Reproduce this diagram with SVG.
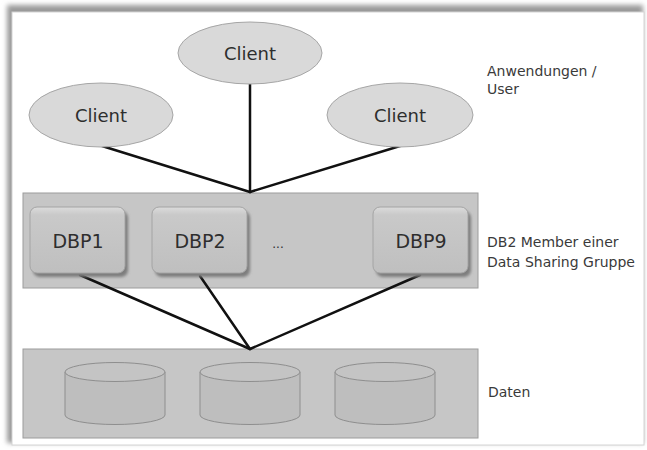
<svg xmlns="http://www.w3.org/2000/svg" width="647" height="450" viewBox="0 0 647 450">
  <style>
    .client { fill: #d9d9d9; stroke: #a6a6a6; stroke-width: 1; }
    .band { fill: #c6c6c6; stroke: #9c9c9c; stroke-width: 1; }
    .box { fill: url(#boxFill); stroke: #a4a4a4; stroke-width: 1; }
    .boxShadow { fill: #7d7d7d; filter: url(#soft); }
    .cyl { fill: #bebebe; stroke: #8e8e8e; stroke-width: 1; }
    .cylTop { fill: #c4c4c4; stroke: #8e8e8e; stroke-width: 1; }
    .conn { stroke: #111; stroke-width: 2.5; fill: none; stroke-linecap: round; }
    .node-text { font-family: "DejaVu Sans", "Liberation Sans", sans-serif; fill: #2e2e2e; text-anchor: middle; }
    .label { font-family: "DejaVu Sans", "Liberation Sans", sans-serif; font-size: 14px; fill: #3a3a3a; }
  </style>
  <defs>
    <linearGradient id="boxFill" x1="0" y1="0" x2="0" y2="1">
      <stop offset="0" stop-color="#dcdcdc"/>
      <stop offset="0.12" stop-color="#c9c9c9"/>
      <stop offset="1" stop-color="#bfbfbf"/>
    </linearGradient>
    <filter id="soft" x="-10%" y="-10%" width="120%" height="130%">
      <feGaussianBlur stdDeviation="1.5"/>
    </filter>
    <filter id="frameShadow" x="-5%" y="-5%" width="110%" height="110%">
      <feGaussianBlur stdDeviation="2.5"/>
    </filter>
  </defs>

  <!-- page background and framed panel, shadow falling up and left -->
  <rect x="0" y="0" width="647" height="450" fill="#ffffff"/>
  <rect x="7" y="5" width="636" height="438" fill="#9a9a9a" filter="url(#frameShadow)"/>
  <rect x="12" y="12" width="632" height="433" fill="#ffffff" stroke="#d4d4d4" stroke-width="1"/>

  <!-- layer bands -->
  <g id="band-members">
    <rect class="band" x="23" y="193" width="455" height="95"/>
  </g>
  <g id="band-data">
    <rect class="band" x="23" y="349" width="455" height="89"/>
  </g>

  <!-- connectors -->
  <g id="connectors">
    <line class="conn" x1="102" y1="146" x2="250" y2="192"/>
    <line class="conn" x1="250" y1="84" x2="250" y2="192"/>
    <line class="conn" x1="400" y1="146" x2="250" y2="192"/>
    <line class="conn" x1="80" y1="275" x2="250" y2="349"/>
    <line class="conn" x1="200" y1="276" x2="250" y2="349"/>
    <line class="conn" x1="420" y1="275" x2="250" y2="349"/>
  </g>

  <!-- clients -->
  <g id="client-top">
    <ellipse class="client" cx="250" cy="53" rx="72" ry="31"/>
    <text class="node-text" x="250" y="59.5" font-size="18">Client</text>
  </g>
  <g id="client-left">
    <ellipse class="client" cx="101" cy="115" rx="72" ry="32"/>
    <text class="node-text" x="101" y="121.5" font-size="18">Client</text>
  </g>
  <g id="client-right">
    <ellipse class="client" cx="400" cy="115" rx="73" ry="32"/>
    <text class="node-text" x="400" y="121.5" font-size="18">Client</text>
  </g>

  <!-- DB2 members -->
  <g id="dbp1">
    <rect class="boxShadow" x="33" y="211" width="95" height="66" rx="7"/>
    <rect class="box" x="30" y="207" width="95" height="66" rx="7"/>
    <text class="node-text" x="78" y="248" font-size="19">DBP1</text>
  </g>
  <g id="dbp2">
    <rect class="boxShadow" x="155" y="211" width="95" height="66" rx="7"/>
    <rect class="box" x="152" y="207" width="95" height="66" rx="7"/>
    <text class="node-text" x="200" y="248" font-size="19">DBP2</text>
  </g>
  <g id="dbp-more">
    <text class="node-text" x="278" y="248" font-size="12" fill="#555">...</text>
  </g>
  <g id="dbp9">
    <rect class="boxShadow" x="376" y="211" width="95" height="66" rx="7"/>
    <rect class="box" x="373" y="207" width="95" height="66" rx="7"/>
    <text class="node-text" x="421" y="248" font-size="19">DBP9</text>
  </g>

  <!-- data volumes -->
  <g id="disk1">
    <path class="cyl" d="M65,372 V415 A50,9.5 0 0 0 165,415 V372 Z"/>
    <ellipse class="cylTop" cx="115" cy="372" rx="50" ry="9.5"/>
  </g>
  <g id="disk2">
    <path class="cyl" d="M200,372 V415 A50,9.5 0 0 0 300,415 V372 Z"/>
    <ellipse class="cylTop" cx="250" cy="372" rx="50" ry="9.5"/>
  </g>
  <g id="disk3">
    <path class="cyl" d="M335,372 V415 A50,9.5 0 0 0 435,415 V372 Z"/>
    <ellipse class="cylTop" cx="385" cy="372" rx="50" ry="9.5"/>
  </g>

  <!-- layer captions -->
  <g id="caption-users">
    <text class="label" x="487" y="76">Anwendungen /</text>
    <text class="label" x="487" y="94">User</text>
  </g>
  <g id="caption-members">
    <text class="label" x="487" y="247">DB2 Member einer</text>
    <text class="label" x="487" y="267">Data Sharing Gruppe</text>
  </g>
  <g id="caption-data">
    <text class="label" x="488" y="397">Daten</text>
  </g>
</svg>
